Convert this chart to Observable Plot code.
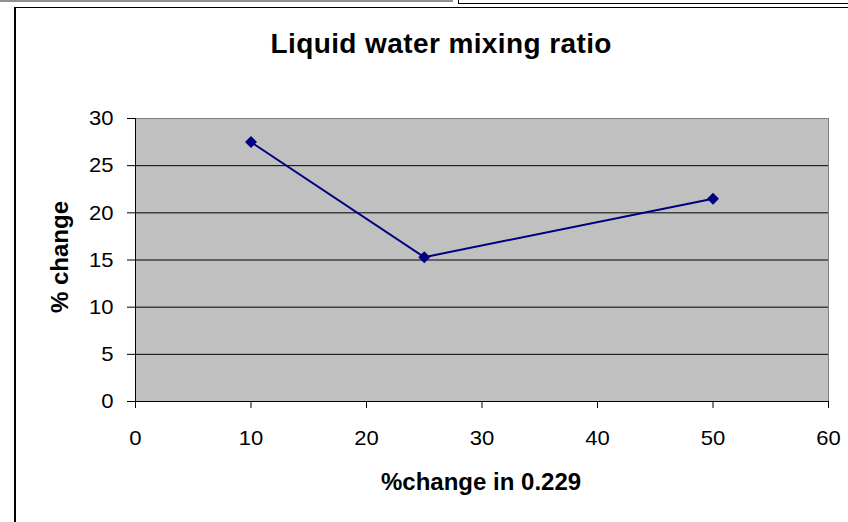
<!DOCTYPE html>
<html>
<head>
<meta charset="utf-8">
<script src="https://cdn.jsdelivr.net/npm/d3@7"></script>
<script src="https://cdn.jsdelivr.net/npm/@observablehq/plot@0.6"></script>
<style>
  html, body { margin: 0; padding: 0; background: #fff; }
  #wrap { position: relative; width: 848px; height: 522px; overflow: hidden; font-family: "Liberation Sans", Arial, sans-serif; }
  #wrap svg { position: absolute; left: 0; top: 0; }
  #wrap svg text { font-size: 21px; fill: #000; }
  .deco { position: absolute; box-sizing: border-box; }
  .title { position: absolute; font-weight: bold; color: #000; white-space: nowrap; }
</style>
</head>
<body>
<div id="wrap"></div>
<script>
const chartTitle = "Liquid water mixing ratio";
const xTitle = "%change in 0.229";
const yTitle = "% change";
const xValues = [10, 25, 50];
const yValues = [27.5, 15.3, 21.5];
const xTicks = [0, 10, 20, 30, 40, 50, 60];
const yTicks = [0, 5, 10, 15, 20, 25, 30];
const gridValues = [5, 10, 15, 20, 25];

const data = xValues.map((x, i) => ({x, y: yValues[i]}));

const chart = Plot.plot({
  width: 848,
  height: 522,
  marginLeft: 135,
  marginRight: 20,
  marginTop: 118,
  marginBottom: 121,
  style: {fontFamily: "'Liberation Sans', Arial, sans-serif", background: "transparent", overflow: "visible", color: "#000"},
  x: {domain: [0, 60], ticks: xTicks},
  y: {domain: [0, 30], ticks: yTicks},
  marks: [
    Plot.frame({fill: "#c0c0c0", stroke: "#808080", strokeWidth: 1}),
    Plot.ruleY(gridValues, {stroke: "#000", strokeWidth: 1}),
    Plot.ruleX([0], {stroke: "#000", strokeWidth: 1}),
    Plot.ruleY([0], {stroke: "#000", strokeWidth: 1}),
    Plot.axisY({ticks: yTicks, tickSize: 8, tickPadding: 14, fontSize: 21, label: null, color: "#000", stroke: "#000"}),
    Plot.axisX({ticks: xTicks, tickSize: 7, tickPadding: 22, fontSize: 21, label: null, color: "#000", stroke: "#000"}),
    Plot.line(data, {x: "x", y: "y", stroke: "#000080", strokeWidth: 2}),
    Plot.dot(data, {x: "x", y: "y", symbol: "diamond2", r: 5.4, fill: "#000080", stroke: "none"})
  ]
});

const wrap = document.getElementById("wrap");
wrap.appendChild(chart);

// slightly wider tick labels, as in the reference rendering
chart.querySelectorAll('g[aria-label="x-axis tick label"] text, g[aria-label="y-axis tick label"] text').forEach(el => {
  const len = el.getComputedTextLength();
  el.setAttribute("textLength", (len * 1.05).toFixed(1));
  el.setAttribute("lengthAdjust", "spacingAndGlyphs");
});

function deco(style) {
  const d = document.createElement("div");
  d.className = "deco";
  Object.assign(d.style, style);
  wrap.appendChild(d);
}
// surrounding frames
deco({left: "0px", top: "0px", width: "453px", height: "2px", background: "#909090"});
deco({left: "458px", top: "-20px", width: "420px", height: "24px", border: "1px solid #000"});
deco({left: "14px", top: "7px", width: "860px", height: "540px", border: "1px solid #000", borderLeftWidth: "2px"});

function label(text, style) {
  const d = document.createElement("div");
  d.className = "title";
  d.textContent = text;
  Object.assign(d.style, style);
  wrap.appendChild(d);
  return d;
}
const t = label(chartTitle, {fontSize: "28px", letterSpacing: "0.4px"});
t.style.left = (441 - t.offsetWidth / 2) + "px";
t.style.top = (44 - t.offsetHeight / 2) + "px";

const xt = label(xTitle, {fontSize: "24px"});
xt.style.left = (481 - xt.offsetWidth / 2) + "px";
xt.style.top = (482 - xt.offsetHeight / 2) + "px";

const yt = label(yTitle, {fontSize: "24px"});
yt.style.left = (60 - yt.offsetWidth / 2) + "px";
yt.style.top = (257 - yt.offsetHeight / 2) + "px";
yt.style.transform = "rotate(-90deg)";
</script>
</body>
</html>
